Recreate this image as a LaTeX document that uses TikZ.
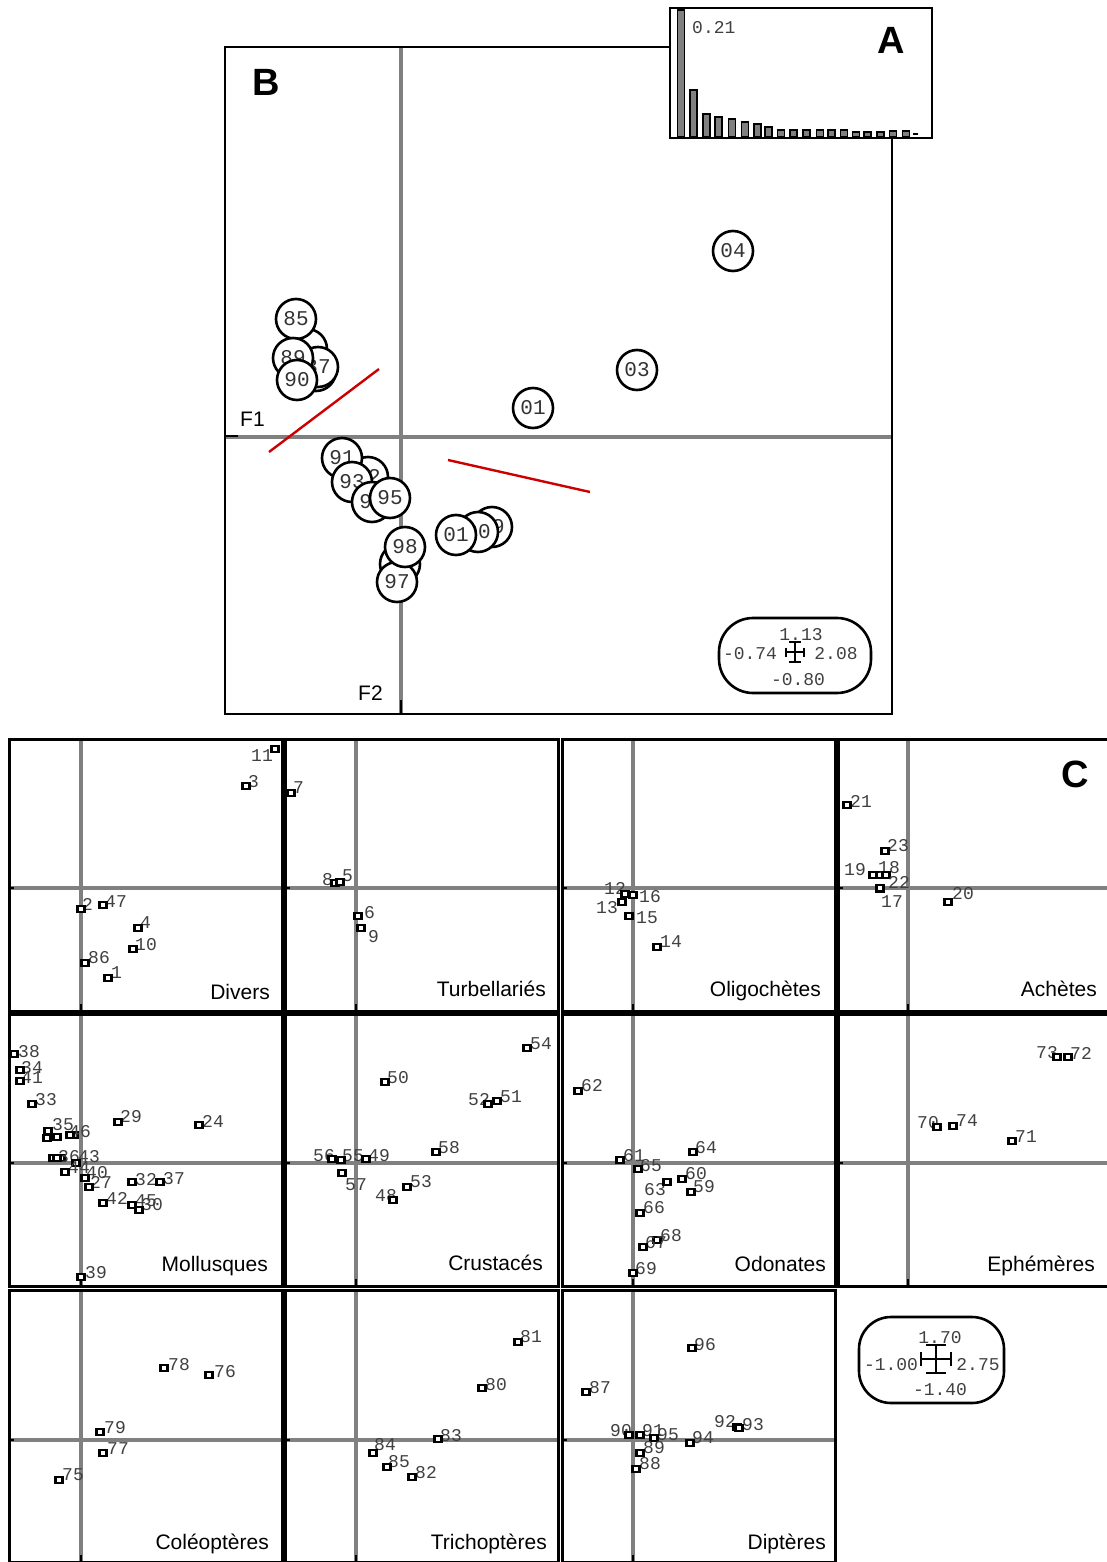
\documentclass[tikz,border=0pt]{standalone}
\usepackage{fontspec}
\newfontfamily\monof{Liberation Mono}
\newfontfamily\sansf{Liberation Sans}
\tikzset{
  gridln/.style={draw=gray, line width=3.6pt},
  boxln/.style={draw=black, line width=3pt},
  tickln/.style={draw=black, line width=1.6pt},
  mk/.style={draw=black, fill=white, rectangle, minimum width=7pt, minimum height=6pt, inner sep=0pt, line width=2.2pt},
  numlbl/.style={font=\monof\fontsize{18}{20}\selectfont, text=black!75, inner sep=0pt, anchor=west},
  yr/.style={circle, draw=black, fill=white, minimum size=40pt, inner sep=0pt, line width=2.6pt, font=\monof\fontsize{21}{23}\selectfont, text=black!80},
  grp/.style={font=\sansf\fontsize{21}{24}\selectfont, inner sep=0pt, anchor=base east},
  big/.style={font=\sansf\bfseries\fontsize{38}{40}\selectfont, inner sep=0pt, anchor=base west},
  axlbl/.style={font=\sansf\fontsize{21}{24}\selectfont, inner sep=0pt, anchor=base west},
  bar/.style={draw=black, fill=gray, line width=1.6pt},
  crossln/.style={draw=black, line width=2.6pt},
  scl/.style={font=\monof\fontsize{18}{20}\selectfont, text=black!75, inner sep=0pt},
  redln/.style={draw=red!80!black, line width=2.4pt},
}
\newcommand\crossmk[6]{% cx cy halfwidth halfheight caphalf endhalf
  \draw[crossln] (#1,{#2-#4}) -- (#1,{#2+#4});
  \draw[crossln] ({#1-#3},#2) -- ({#1+#3},#2);
  \draw[crossln] ({#1-#5},{#2-#4}) -- ({#1+#5},{#2-#4});
  \draw[crossln] ({#1-#5},{#2+#4}) -- ({#1+#5},{#2+#4});
  \draw[crossln] ({#1-#3},{#2-#6}) -- ({#1-#3},{#2+#6});
  \draw[crossln] ({#1+#3},{#2-#6}) -- ({#1+#3},{#2+#6});
}
\begin{document}
\begin{tikzpicture}[x=1pt,y=-1pt]
\useasboundingbox (0,0) rectangle (1107,1562);
\clip (0,0) rectangle (1107,1562);
\fill[white] (0,0) rectangle (1107,1562);

% ---------------- Panel B ----------------
\draw[gridln, line width=3.2pt] (401,47) -- (401,714);
\draw[gridln, line width=3.2pt] (225,437) -- (892,437);
\draw[tickln] (226,436) -- (238,436);
\draw[tickln] (401,700) -- (401,713);
\draw[draw=black, line width=2.6pt] (225,47) rectangle (892,714);
\node[big] (lB) at (252,96) {B};
\node[axlbl] (f1) at (240,426) {F1};
\node[axlbl] (f2) at (358,700) {F2};

\coordinate (r1a) at (269,452); \coordinate (r1b) at (379,369);
\coordinate (r2a) at (448,460); \coordinate (r2b) at (590,492);
\draw[redln] (r1a) -- (r1b);
\draw[redln] (r2a) -- (r2b);

% circles (back to front)
\foreach \cx/\cy/\t [count=\k] in {
  733/251/04, 637/370/03, 533/408/01,
  307/349/{}, 316/371/{}, 318/367/87, 296/319/85, 293/358/89, 297/380/90,
  368/477/92, 342/458/91, 352/482/93, 372/502/94, 390/498/95,
  400/564/{}, 397/582/97, 405/547/98,
  492/527/99, 478/532/00, 456/535/01}
  \node[yr] (c\k) at (\cx,\cy) {\t};

% scale box B
\node[draw=black, line width=2.6pt, rounded corners=34pt, minimum width=152pt, minimum height=75pt, inner sep=0pt] (sbB) at (795,655.5) {};
\node[scl] (sb1) at (801,635) {1.13};
\node[scl] (sb2) at (750,654) {-0.74};
\node[scl] (sb3) at (836,654) {2.08};
\node[scl] (sb4) at (798,680) {-0.80};
\crossmk{795}{652}{9}{10}{6}{4.5}

% ---------------- Panel A ----------------
\draw[fill=white, draw=black, line width=2.8pt] (670,8) rectangle (932,138);
\foreach \bx/\by [count=\k] in {681/10, 693.5/90, 706.5/114, 718.5/117, 732/119, 745/122, 757.5/124, 768.5/127,
  781/130, 793.5/130, 806.5/130, 820/130, 831.5/130, 844/130, 856/132, 867.5/132, 880.5/132, 893/131, 906/131}
  \draw[bar] ({\bx-3.5},137) rectangle ({\bx+3.5},\by);
\draw[draw=black, line width=1.6pt] (913,134) -- (918,134);
\node[scl, anchor=west] (a021) at (692,28) {0.21};
\node[big] (lA) at (877,54) {A};

% ---------------- Panel C ----------------
\foreach \L/\T/\vx/\hy in {9/739/81/888, 285/739/356/888, 562/739/633/888, 838/739/908/888,
  9/1014/81/1163, 285/1014/356/1163, 562/1014/633/1163, 838/1014/908/1163,
  9/1290/81/1440, 285/1290/356/1440, 562/1290/633/1440} {
  \draw[gridln] (\vx,\T) -- (\vx,{\T+272});
  \draw[gridln] (\L,\hy) -- ({\L+273},\hy);
  \draw[tickln] (\L,\hy) -- ({\L+5},\hy);
  \draw[tickln] (\vx,{\T+265}) -- (\vx,{\T+272});
  \draw[boxln] (\L,\T) rectangle ({\L+273},{\T+272});
}
\node[big] (lC) at (1061,787) {C};

\node[grp] (g1) at (270,999) {Divers};
\node[grp] (g2) at (546,996) {Turbellariés};
\node[grp] (g3) at (821,996) {Oligochètes};
\node[grp] (g4) at (1097,996) {Achètes};
\node[grp] (g5) at (268,1271) {Mollusques};
\node[grp] (g6) at (543,1270) {Crustacés};
\node[grp] (g7) at (826,1271) {Odonates};
\node[grp] (g8) at (1095,1271) {Ephémères};
\node[grp] (g9) at (269,1549) {Coléoptères};
\node[grp] (g10) at (547,1549) {Trichoptères};
\node[grp] (g11) at (826,1549) {Diptères};

% unlabeled markers
\foreach \mx/\my [count=\k] in {880/875, 47/1138, 57/1137, 74/1135, 53/1158, 61/1158}
  \node[mk] (u\k) at (\mx,\my) {};

% labeled points: marker x/y, label, label left x / centre y
\foreach \mx/\my/\lb/\lx/\ly [count=\k] in {
  275/749/11/251/756, 246/786/3/248/782, 81/909/2/82/904, 103/905/47/105/902,
  138/928/4/140/923, 133/949/10/135/945, 85/963/86/88/958, 108/978/1/111/973,
  291/793/7/293/788, 335/883/8/322/880, 340/882/5/342/876, 358/916/6/364/913, 361/928/9/368/937,
  625/894/12/604/888, 633/895/16/639/897, 622/902/13/596/908, 629/916/15/636/918, 657/947/14/660/942,
  847/805/21/850/801, 885/851/23/887/846, 873/875/19/844/870, 886/875/18/878/868,
  880/889/17/881/902, 880/888/22/888/882, 948/902/20/952/894,
  14/1054/38/18/1052, 20/1070/34/21/1068, 20/1081/41/21/1078, 32/1104/33/35/1100,
  118/1122/29/120/1117, 199/1125/24/202/1121, 48/1131/35/52/1125, 70/1135/46/69/1132,
  57/1158/36/58/1157, 76/1163/43/78/1157, 65/1172/44/68/1168, 85/1178/40/86/1173,
  89/1187/27/90/1182, 132/1182/32/135/1180, 160/1182/37/163/1179, 103/1203/42/106/1198,
  132/1205/45/135/1201, 139/1210/30/141/1205, 81/1277/39/85/1273,
  527/1048/54/530/1044, 385/1082/50/387/1078, 488/1104/52/468/1100, 497/1101/51/500/1097,
  436/1152/58/438/1148, 332/1159/56/313/1156, 341/1160/55/342/1156, 366/1159/49/368/1156,
  342/1173/57/345/1185, 407/1187/53/410/1182, 393/1200/48/375/1196,
  578/1091/62/581/1086, 693/1152/64/695/1148, 620/1160/61/623/1156, 638/1169/65/640/1166,
  682/1179/60/685/1174, 667/1182/63/644/1190, 691/1192/59/693/1187, 640/1213/66/643/1208,
  657/1240/68/660/1236, 643/1247/67/645/1243, 633/1273/69/635/1269,
  1057/1057/73/1036/1053, 1068/1057/72/1070/1053, 937/1127/70/917/1123,
  953/1126/74/956/1121, 1012/1141/71/1015/1137,
  164/1368/78/168/1365, 209/1375/76/214/1372, 100/1432/79/104/1428, 103/1453/77/107/1449,
  59/1480/75/62/1475,
  518/1342/81/520/1337, 482/1388/80/485/1385, 438/1439/83/440/1436, 373/1453/84/374/1445,
  387/1467/85/388/1462, 412/1477/82/415/1473,
  692/1348/96/694/1345, 586/1392/87/589/1388, 629/1435/90/610/1431, 640/1435/91/642/1431,
  654/1438/95/657/1435, 640/1453/89/643/1448, 636/1469/88/639/1464, 690/1443/94/692/1438,
  737/1427/92/714/1422, 739/1428/93/742/1425} {
  \node[numlbl] (t\k) at (\lx,\ly) {\lb};
  \node[mk] (p\k) at (\mx,\my) {};
}

% scale box C
\node[draw=black, line width=2.6pt, rounded corners=32pt, minimum width=145pt, minimum height=86pt, inner sep=0pt] (sbC) at (931.5,1360) {};
\node[scl] (sc1) at (940,1338) {1.70};
\node[scl] (sc2) at (891,1365) {-1.00};
\node[scl] (sc3) at (978,1365) {2.75};
\node[scl] (sc4) at (940,1390) {-1.40};
\crossmk{936}{1359}{15}{14}{10}{7}
\end{tikzpicture}
\end{document}
